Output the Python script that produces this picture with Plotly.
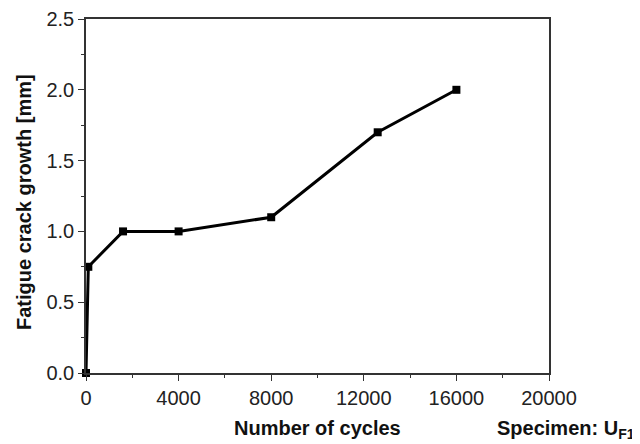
import plotly.graph_objects as go

cycles = [0, 100, 1600, 4000, 8000, 12600, 16000]
crack = [0.0, 0.75, 1.0, 1.0, 1.1, 1.7, 2.0]

x_ticks = [0, 4000, 8000, 12000, 16000, 20000]
y_ticks = [0.0, 0.5, 1.0, 1.5, 2.0, 2.5]

fig = go.Figure()
fig.add_trace(go.Scatter(
    x=cycles, y=crack, mode="lines+markers",
    line=dict(color="black", width=3),
    marker=dict(symbol="square", size=8, color="black"),
    cliponaxis=False,
))

font = "Liberation Sans, Arial, sans-serif"
# page body has an 8px default margin; figure sized to fill the rest of the window
fig.update_layout(
    width=632, height=436,
    margin=dict(l=78, r=91, t=11, b=71, autoexpand=False),
    plot_bgcolor="white", paper_bgcolor="white",
    showlegend=False,
    font=dict(family=font, color="#222", size=20),
)
fig.update_xaxes(
    range=[0, 20000], tickvals=x_ticks, ticktext=[str(v) for v in x_ticks],
    showgrid=False, zeroline=False, showline=True, linecolor="#333", linewidth=1.5,
    mirror=True, ticks="outside", ticklen=6, tickcolor="#333",
    minor=dict(dtick=2000, ticks="outside", ticklen=3, tickcolor="#333"),
    tickfont=dict(size=20), automargin=False,
)
fig.update_yaxes(
    range=[0, 2.5], tickvals=y_ticks, ticktext=[f"{v:.1f}" for v in y_ticks],
    showgrid=False, zeroline=False, showline=True, linecolor="#333", linewidth=1.5,
    mirror=True, ticks="outside", ticklen=6, tickcolor="#333",
    minor=dict(dtick=0.25, ticks="outside", ticklen=3, tickcolor="#333"),
    tickfont=dict(size=20), automargin=False,
)
fig.add_annotation(
    text="<b>Number of cycles</b>", xref="paper", yref="paper",
    x=0.5, y=-0.155, xanchor="center", yanchor="middle", showarrow=False,
    font=dict(size=20, color="#111", family=font),
)
fig.add_annotation(
    text="<b>Fatigue crack growth [mm]</b>", xref="paper", yref="paper",
    x=-0.134, y=0.483, xanchor="center", yanchor="middle", showarrow=False,
    textangle=-90, font=dict(size=20, color="#111", family=font),
)
fig.add_annotation(
    text="<b>Specimen: U<sub>F1</sub></b>", xref="paper", yref="paper",
    x=1.19, y=-0.118, xanchor="right", yanchor="top", showarrow=False,
    font=dict(size=20, color="#111", family=font),
)
fig.write_html("out.html")
